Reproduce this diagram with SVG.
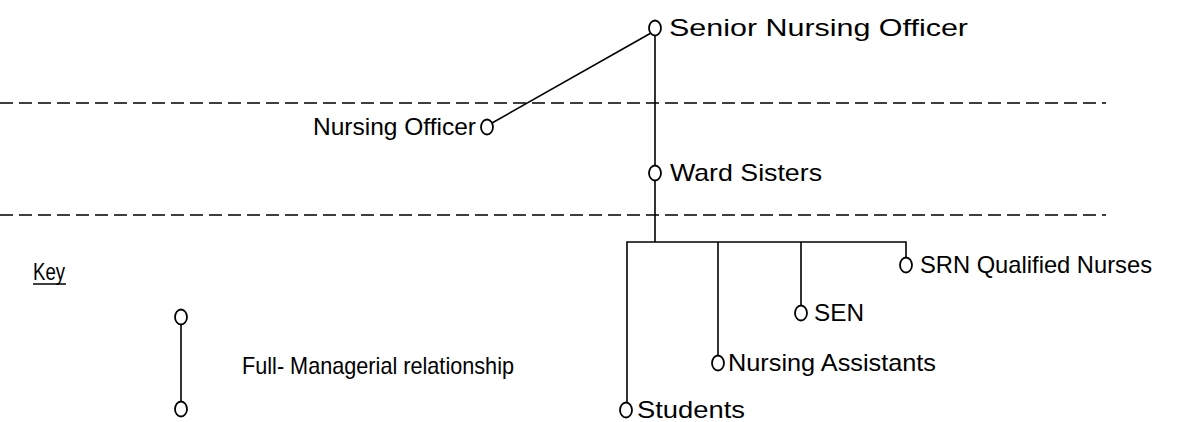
<svg xmlns="http://www.w3.org/2000/svg" width="1182" height="422" viewBox="0 0 1182 422">
  <style>
    .bg { fill: #ffffff; }
    .node { fill: #ffffff; stroke: #000000; stroke-width: 1.8; }
    .link { fill: none; stroke: #000000; stroke-width: 1.6; }
    .band { fill: none; stroke: #000000; stroke-width: 1.3; stroke-dasharray: 13 6; }
    .label { font-family: "Liberation Sans", Arial, sans-serif; font-size: 24px; fill: #000000; }
  </style>
  <rect class="bg" x="0" y="0" width="1182" height="422"/>

  <!-- level boundaries -->
  <g id="bands">
    <line class="band" x1="0" y1="103" x2="1106" y2="103"/>
    <line class="band" x1="0" y1="215" x2="1106" y2="215"/>
  </g>

  <!-- reporting lines -->
  <g id="connectors">
    <line class="link" x1="651" y1="33" x2="492" y2="123"/>
    <line class="link" x1="655" y1="36" x2="655" y2="166"/>
    <line class="link" x1="655" y1="180" x2="655" y2="242"/>
    <polyline class="link" points="627,403 627,242 906,242 906,258"/>
    <line class="link" x1="718" y1="242" x2="718" y2="356"/>
    <line class="link" x1="801" y1="242" x2="801" y2="306"/>
    <line class="link" x1="181" y1="324" x2="181" y2="402"/>
  </g>

  <g id="senior-nursing-officer">
    <ellipse class="node" cx="655" cy="28" rx="6" ry="7.5"/>
    <text class="label" x="669" y="36" font-size="25" textLength="299" lengthAdjust="spacingAndGlyphs">Senior Nursing Officer</text>
  </g>

  <g id="nursing-officer">
    <ellipse class="node" cx="487" cy="127" rx="6" ry="7.5"/>
    <text class="label" x="313" y="135" textLength="163" lengthAdjust="spacingAndGlyphs">Nursing Officer</text>
  </g>

  <g id="ward-sisters">
    <ellipse class="node" cx="655" cy="173" rx="6" ry="7.5"/>
    <text class="label" x="670" y="181" textLength="152" lengthAdjust="spacingAndGlyphs">Ward Sisters</text>
  </g>

  <g id="srn-qualified-nurses">
    <ellipse class="node" cx="906" cy="265" rx="6" ry="7.5"/>
    <text class="label" x="920" y="273" textLength="232" lengthAdjust="spacingAndGlyphs">SRN Qualified Nurses</text>
  </g>

  <g id="sen">
    <ellipse class="node" cx="801" cy="313" rx="6" ry="7.5"/>
    <text class="label" x="814" y="321" textLength="50" lengthAdjust="spacingAndGlyphs">SEN</text>
  </g>

  <g id="nursing-assistants">
    <ellipse class="node" cx="718" cy="363" rx="6" ry="7.5"/>
    <text class="label" x="728" y="371" textLength="208" lengthAdjust="spacingAndGlyphs">Nursing Assistants</text>
  </g>

  <g id="students">
    <ellipse class="node" cx="626" cy="410" rx="6" ry="7.5"/>
    <text class="label" x="637" y="418" textLength="108" lengthAdjust="spacingAndGlyphs">Students</text>
  </g>

  <!-- legend -->
  <g id="key">
    <text class="label" x="33" y="280" font-size="23" textLength="32" lengthAdjust="spacingAndGlyphs">Key</text>
    <line class="link" x1="33" y1="284" x2="66" y2="284"/>
    <ellipse class="node" cx="181" cy="317" rx="6" ry="7.5"/>
    <ellipse class="node" cx="181" cy="409" rx="6" ry="7.5"/>
    <text class="label" x="242" y="374" font-size="23" textLength="272" lengthAdjust="spacingAndGlyphs">Full- Managerial relationship</text>
  </g>
</svg>
